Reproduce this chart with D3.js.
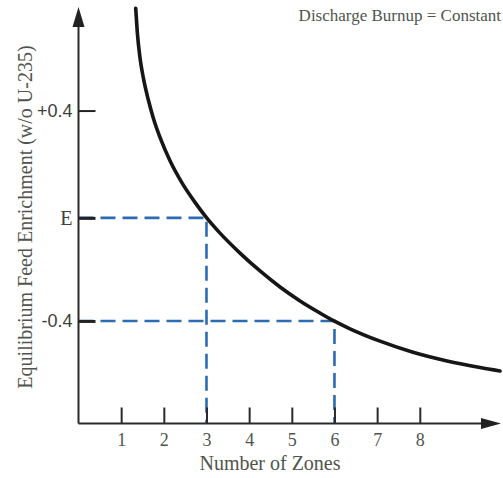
<!DOCTYPE html>
<html>
<head>
<meta charset="utf-8">
<script src="https://cdn.jsdelivr.net/npm/d3@7"></script>
<style>
  body { margin: 0; background: #fff; }
  svg { display: block; }
</style>
</head>
<body>
<svg id="chart" width="503" height="478"></svg>
<script>
// values
var zoneTicks = [1, 2, 3, 4, 5, 6, 7, 8];
var enrichTicks = [0.4, -0.008, -0.4];
var enrichLabels = ["+0.4", "E", "-0.4"];
var curveZones = [1.341, 1.378, 1.442, 1.519, 1.636, 1.753, 1.927, 2.145, 2.419, 2.731, 3.005, 3.317, 3.786, 4.255, 4.724, 5.193, 5.661, 5.988, 6.364, 7.067, 7.841, 8.638, 9.412, 9.881];
var curveEnrich = [0.789, 0.698, 0.600, 0.525, 0.441, 0.372, 0.291, 0.209, 0.127, 0.051, -0.008, -0.066, -0.142, -0.210, -0.271, -0.324, -0.370, -0.400, -0.430, -0.477, -0.519, -0.552, -0.577, -0.590];
var guideZones = [3, 6];
var guideEnrich = [-0.008, -0.4];

var svg = d3.select("#chart");
var textColor = "#4f554c";
var blue = "#2b6cb3";
var serif = "'Liberation Serif', 'DejaVu Serif', serif";

var x = d3.scaleLinear().domain([0, 9.88]).range([78.5, 500]);
var y = d3.scaleLinear().domain([-0.79, 0.79]).range([423.5, 8]);

var x0 = x(0), y0 = y(-0.79);

// dashed guide lines
guideZones.forEach(function (z, i) {
  svg.append("path")
    .attr("d", "M" + x0 + "," + y(guideEnrich[i]) + "H" + x(z) + "V" + y0)
    .attr("fill", "none")
    .attr("stroke", blue)
    .attr("stroke-width", 2.6)
    .attr("stroke-dasharray", "15,7")
    .attr("stroke-dashoffset", -22);
});

// x axis ticks
var xAxis = d3.axisBottom(x).tickValues(zoneTicks).tickSize(-16).tickPadding(9.5);
var gx = svg.append("g")
  .attr("transform", "translate(0," + y0 + ")")
  .call(xAxis);
gx.select(".domain").remove();
gx.selectAll("line").attr("stroke", "#2a2a2a").attr("stroke-width", 2);
gx.selectAll("text")
  .attr("fill", textColor)
  .style("font-family", serif)
  .style("font-size", "18px");

// y axis ticks
var yAxis = d3.axisLeft(y).tickValues(enrichTicks).tickSize(-17).tickPadding(6)
  .tickFormat(function (d, i) { return enrichLabels[i]; });
var gy = svg.append("g")
  .attr("transform", "translate(" + x0 + ",0)")
  .call(yAxis);
gy.select(".domain").remove();
gy.selectAll("line")
  .attr("stroke", "#222")
  .attr("stroke-width", function (d, i) { return i == 0 ? 2 : 3; });
gy.selectAll("text")
  .attr("fill", "#3c4038")
  .style("font-family", function (d, i) { return i == 1 ? serif : "'Liberation Sans', Arial, sans-serif"; })
  .style("font-size", function (d, i) { return i == 1 ? "20px" : "18px"; });

// axis lines with arrows
svg.append("path")
  .attr("d", "M" + x0 + "," + y0 + "V24 M" + x0 + "," + y0 + "H484")
  .attr("fill", "none")
  .attr("stroke", "#2a2a2a")
  .attr("stroke-width", 2);
svg.append("path")
  .attr("d", "M" + x0 + ",7 L" + (x0 - 6) + ",27 L" + (x0 + 6) + ",27 Z")
  .attr("fill", "#222");
svg.append("path")
  .attr("d", "M501," + y0 + " L481," + (y0 - 5.5) + " L481," + (y0 + 5.5) + " Z")
  .attr("fill", "#222");

// the curve
var line = d3.line()
  .x(function (d) { return x(d[0]); })
  .y(function (d) { return y(d[1]); })
  .curve(d3.curveMonotoneX);
svg.append("path")
  .attr("d", line(d3.zip(curveZones, curveEnrich)))
  .attr("fill", "none")
  .attr("stroke", "#161616")
  .attr("stroke-width", 3.6)
  .attr("stroke-linecap", "round");

// labels
svg.append("text")
  .attr("x", 270).attr("y", 470)
  .attr("text-anchor", "middle")
  .attr("fill", textColor)
  .style("font-family", serif)
  .style("font-size", "20px")
  .text("Number of Zones");

svg.append("text")
  .attr("transform", "translate(32,217) rotate(-90)")
  .attr("text-anchor", "middle")
  .attr("fill", textColor)
  .style("font-family", serif)
  .style("font-size", "20px")
  .text("Equilibrium Feed Enrichment (w/o U-235)");

svg.append("text")
  .attr("x", 501).attr("y", 21)
  .attr("text-anchor", "end")
  .attr("fill", textColor)
  .style("font-family", serif)
  .style("font-size", "17px")
  .text("Discharge Burnup = Constant");
</script>
</body>
</html>
